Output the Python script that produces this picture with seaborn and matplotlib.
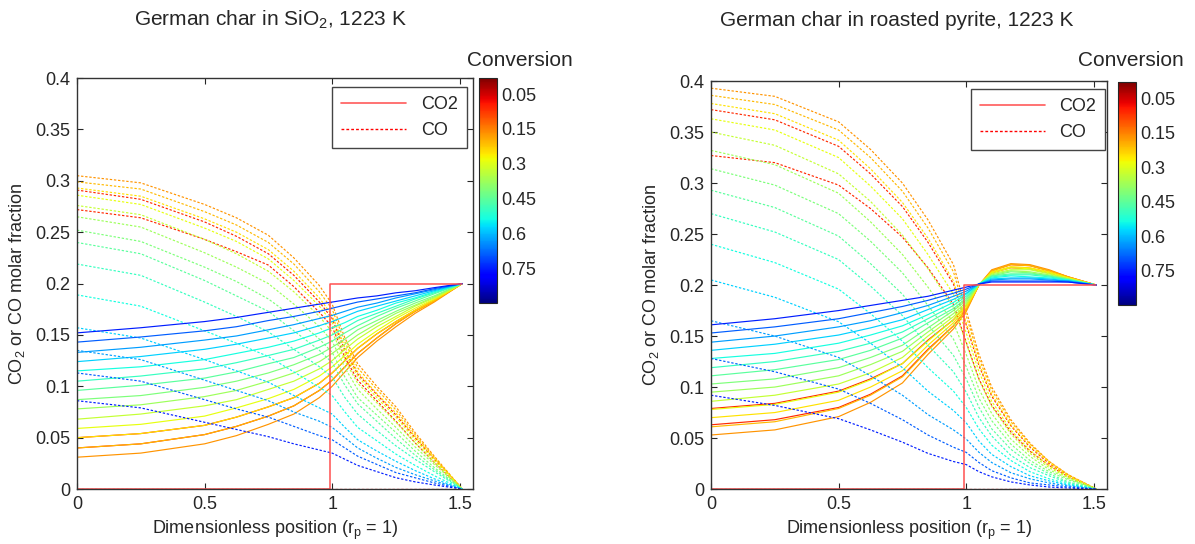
import numpy as np
import pandas as pd
import matplotlib
matplotlib.use("Agg")
import matplotlib.pyplot as plt
import seaborn as sns
from matplotlib.lines import Line2D
from matplotlib.ticker import FuncFormatter

# -------------------------------
# Data
# -------------------------------
# radial positions where every profile was read
X_PTS = [0, 0.25, 0.5, 0.625, 0.75, 0.85, 0.95, 1.0, 1.05, 1.1,
         1.175, 1.25, 1.325, 1.4, 1.51]

# conversion of each plotted profile (low -> high)
CONVERSION = [0.17, 0.21, 0.25, 0.29, 0.33, 0.375, 0.415, 0.455,
              0.495, 0.535, 0.58, 0.63, 0.69, 0.75]
RED_CONVERSION = 0.09

# colorbar labels (equally spaced on the bar)
CBAR_LABELS = [0.05, 0.15, 0.3, 0.45, 0.6, 0.75]

# --- German char in SiO2 ---
CO2_SIO2 = [
    [.031, .035, .044, .052, .063, .073, .089, .100, .114, .128, .144, .158, .171, .182, .2],
    [.040, .044, .053, .061, .071, .081, .096, .106, .119, .132, .147, .161, .173, .183, .2],
    [.050, .054, .062, .070, .080, .089, .103, .113, .125, .137, .151, .163, .174, .184, .2],
    [.059, .063, .071, .079, .088, .097, .110, .119, .130, .141, .154, .166, .176, .185, .2],
    [.068, .073, .081, .087, .097, .105, .117, .125, .136, .146, .158, .168, .178, .186, .2],
    [.078, .082, .090, .096, .105, .113, .124, .132, .141, .150, .161, .171, .179, .187, .2],
    [.087, .091, .099, .105, .113, .121, .131, .138, .146, .155, .164, .173, .181, .188, .2],
    [.096, .101, .108, .114, .122, .128, .138, .144, .152, .159, .168, .176, .183, .190, .2],
    [.105, .110, .117, .123, .130, .136, .145, .150, .157, .164, .171, .178, .185, .191, .2],
    [.115, .119, .126, .132, .138, .144, .152, .157, .162, .168, .174, .181, .186, .192, .2],
    [.124, .129, .136, .141, .147, .152, .159, .163, .168, .173, .178, .183, .188, .193, .2],
    [.133, .138, .145, .149, .155, .160, .166, .169, .173, .177, .181, .186, .190, .194, .2],
    [.143, .148, .154, .158, .164, .168, .173, .176, .179, .182, .185, .188, .191, .195, .2],
    [.152, .157, .163, .167, .172, .176, .180, .182, .184, .186, .188, .191, .193, .196, .2],
]
CO_SIO2 = [
    [.305, .298, .277, .264, .247, .225, .198, .180, .147, .122, .100, .080, .055, .032, 0],
    [.299, .292, .270, .257, .240, .219, .192, .175, .143, .118, .097, .077, .053, .031, 0],
    [.293, .285, .263, .250, .233, .212, .186, .169, .138, .114, .093, .074, .051, .030, 0],
    [.286, .277, .254, .241, .224, .203, .178, .162, .132, .110, .089, .070, .048, .028, 0],
    [.276, .267, .243, .229, .212, .192, .168, .153, .125, .103, .084, .065, .045, .026, 0],
    [.265, .255, .230, .216, .200, .180, .158, .144, .118, .097, .078, .060, .041, .024, 0],
    [.252, .241, .216, .202, .185, .167, .146, .133, .109, .089, .072, .055, .037, .021, 0],
    [.240, .229, .203, .188, .173, .154, .135, .123, .101, .083, .066, .049, .033, .019, 0],
    [.219, .208, .182, .168, .153, .136, .119, .109, .089, .073, .057, .042, .029, .017, 0],
    [.189, .178, .154, .142, .129, .114, .099, .091, .075, .060, .047, .034, .023, .013, 0],
    [.157, .147, .126, .115, .104, .091, .079, .073, .060, .048, .037, .027, .018, .010, 0],
    [.135, .126, .106, .096, .086, .075, .066, .060, .050, .040, .030, .021, .014, .008, 0],
    [.113, .105, .087, .078, .070, .061, .052, .048, .040, .032, .024, .016, .011, .006, 0],
    [.086, .079, .065, .058, .051, .044, .038, .035, .029, .023, .017, .011, .007, .004, 0],
]
CO2_SIO2_RED = [
    [.050, .054, .062, .070, .080, .089, .103, .113, .125, .137, .151, .163, .174, .184, .2],
    [.040, .044, .053, .061, .071, .081, .096, .106, .119, .132, .147, .161, .173, .183, .2],
]
CO_SIO2_RED = [
    [.291, .282, .260, .246, .229, .208, .182, .166, .135, .112, .092, .072, .050, .029, 0],
    [.272, .264, .243, .231, .218, .197, .172, .158, .128, .106, .086, .066, .045, .026, 0],
]

# --- German char in roasted pyrite ---
CO2_PYRITE = [
    [.053, .058, .071, .085, .104, .132, .157, .174, .200, .215, .221, .220, .215, .208, .2],
    [.061, .066, .079, .092, .110, .136, .160, .176, .200, .214, .220, .219, .214, .208, .2],
    [.070, .075, .087, .100, .116, .141, .163, .178, .200, .213, .218, .217, .213, .207, .2],
    [.078, .083, .095, .107, .123, .145, .166, .180, .200, .212, .217, .216, .212, .207, .2],
    [.086, .092, .103, .114, .129, .150, .169, .181, .201, .211, .215, .215, .211, .206, .2],
    [.095, .100, .111, .122, .135, .154, .172, .183, .201, .210, .214, .213, .210, .206, .2],
    [.103, .108, .119, .129, .141, .158, .175, .185, .201, .209, .213, .212, .209, .206, .2],
    [.111, .117, .127, .136, .148, .163, .177, .187, .201, .209, .211, .211, .209, .205, .2],
    [.119, .125, .135, .143, .154, .167, .180, .189, .201, .208, .210, .210, .208, .205, .2],
    [.128, .133, .143, .151, .160, .171, .183, .191, .201, .207, .209, .208, .207, .205, .2],
    [.136, .142, .151, .158, .166, .176, .186, .192, .201, .206, .207, .207, .206, .204, .2],
    [.144, .150, .159, .165, .173, .180, .189, .194, .201, .205, .206, .206, .205, .204, .2],
    [.153, .159, .167, .173, .179, .185, .192, .196, .201, .204, .204, .204, .204, .203, .2],
    [.161, .167, .175, .180, .185, .189, .195, .198, .201, .203, .203, .203, .203, .203, .2],
]
CO_PYRITE = [
    [.393, .385, .360, .333, .300, .264, .220, .175, .132, .100, .068, .045, .027, .014, 0],
    [.386, .377, .352, .325, .292, .256, .213, .170, .128, .097, .066, .044, .027, .014, 0],
    [.378, .368, .342, .314, .281, .246, .204, .163, .123, .093, .063, .042, .026, .013, 0],
    [.363, .352, .325, .297, .265, .230, .191, .153, .115, .086, .058, .038, .023, .012, 0],
    [.350, .337, .309, .282, .249, .216, .178, .143, .107, .081, .054, .035, .021, .011, 0],
    [.332, .318, .290, .262, .230, .198, .163, .132, .098, .074, .049, .032, .019, .010, 0],
    [.314, .298, .270, .243, .212, .180, .147, .120, .089, .067, .044, .028, .017, .009, 0],
    [.293, .276, .248, .221, .191, .161, .131, .108, .080, .059, .039, .025, .015, .007, 0],
    [.270, .252, .225, .199, .170, .141, .115, .095, .070, .052, .033, .021, .013, .006, 0],
    [.240, .222, .196, .172, .145, .119, .096, .080, .059, .043, .028, .017, .010, .005, 0],
    [.205, .188, .164, .143, .119, .096, .077, .065, .047, .034, .022, .013, .008, .004, 0],
    [.165, .150, .129, .111, .092, .073, .058, .049, .036, .026, .016, .010, .006, .003, 0],
    [.128, .115, .098, .084, .068, .053, .041, .036, .026, .018, .011, .006, .004, .002, 0],
    [.092, .082, .069, .058, .046, .035, .027, .024, .017, .012, .007, .004, .002, .001, 0],
]
CO2_PYRITE_RED = [
    [.079, .084, .096, .108, .123, .146, .166, .180, .200, .212, .217, .216, .212, .207, .2],
    [.063, .068, .080, .093, .111, .137, .160, .176, .200, .214, .220, .219, .214, .208, .2],
]
CO_PYRITE_RED = [
    [.372, .362, .336, .309, .277, .242, .201, .161, .121, .091, .062, .041, .025, .013, 0],
    [.327, .320, .298, .275, .247, .217, .181, .144, .108, .082, .056, .037, .023, .012, 0],
]

# initial profiles (conversion 0)
INIT_CO2_X = [0, 0.99, 0.99, 1.51]
INIT_CO2 = [0, 0, 0.2, 0.2]
INIT_CO_X = [0, 1.51]
INIT_CO = [0, 0]

TITLES = ["German char in SiO$_2$, 1223 K",
          "German char in roasted pyrite, 1223 K"]


def build_frame(panel, co2, co, co2_red, co_red):
    rows = []
    groups = [("CO2", co2, CONVERSION), ("CO", co, CONVERSION),
              ("CO2", co2_red, [RED_CONVERSION] * len(co2_red)),
              ("CO", co_red, [RED_CONVERSION] * len(co_red))]
    for g, (gas, table, convs) in enumerate(groups):
        for i, (c, ys) in enumerate(zip(convs, table)):
            for x, y in zip(X_PTS, ys):
                rows.append({"panel": panel, "gas": gas,
                             "curve": f"{gas}_{g}_{i}", "x": x, "y": y,
                             "conv": c})
    return pd.DataFrame(rows)


df = pd.concat([
    build_frame(0, CO2_SIO2, CO_SIO2, CO2_SIO2_RED, CO_SIO2_RED),
    build_frame(1, CO2_PYRITE, CO_PYRITE, CO2_PYRITE_RED, CO_PYRITE_RED),
], ignore_index=True)

# colorbar ticks are equally spaced -> map conversion to bar position
df["pos"] = np.interp(df["conv"], CBAR_LABELS, np.arange(len(CBAR_LABELS)))
CB_MIN, CB_MAX = -0.46, 6.0

# -------------------------------
# Figure
# -------------------------------
sns.set_style("ticks")
plt.rcParams["font.family"] = ["Liberation Sans", "DejaVu Sans"]
plt.rcParams["mathtext.fontset"] = "custom"
plt.rcParams["mathtext.rm"] = "Liberation Sans"
plt.rcParams["mathtext.it"] = "Liberation Sans:italic"

fig = plt.figure(figsize=(11.95, 5.44), dpi=100)
ax_boxes = [[0.0644, 0.101, 0.331, 0.7555], [0.595, 0.101, 0.331, 0.750]]
cax_boxes = [[0.4008, 0.443, 0.0151, 0.4136], [0.9356, 0.439, 0.0151, 0.410]]
title_x = [270 / 1195, 897 / 1195]
conv_x = [520 / 1195, 1131 / 1195]
legend_anchor = [(0.985, 0.978), (0.997, 0.98)]

sm = plt.cm.ScalarMappable(norm=plt.Normalize(CB_MIN, CB_MAX), cmap="jet_r")

for p in range(2):
    ax = fig.add_axes(ax_boxes[p])
    sub = df[df["panel"] == p]
    sns.lineplot(data=sub, x="x", y="y", hue="pos", palette="jet_r",
                 hue_norm=(CB_MIN, CB_MAX), style="gas",
                 dashes={"CO2": "", "CO": (2, 1.5)}, units="curve",
                 estimator=None, sort=False, lw=0.85, legend=False, ax=ax)
    ax.plot(INIT_CO_X, INIT_CO, color="red", ls=(0, (2, 1.5)), lw=0.9)
    ax.plot(INIT_CO2_X, INIT_CO2, color="#ff5050", lw=1.1)

    ax.set_xlim(0, 1.55)
    ax.set_ylim(0, 0.4)
    ax.set_xticks([0, 0.5, 1, 1.5])
    ax.set_yticks(np.arange(0, 0.401, 0.05))
    fmt = FuncFormatter(lambda v, _: f"{v:g}")
    ax.xaxis.set_major_formatter(fmt)
    ax.yaxis.set_major_formatter(fmt)
    ax.tick_params(direction="in", top=True, right=True, length=4,
                   labelsize=13, pad=5)
    for s in ax.spines.values():
        s.set_color("#333333")
        s.set_linewidth(1.0)
    ax.set_xlabel("Dimensionless position (r$_\\mathrm{p}$ = 1)", fontsize=13)
    ax.set_ylabel("CO$_2$ or CO molar fraction", fontsize=13, labelpad=6)

    handles = [Line2D([], [], color="#ff5a5a", lw=1.2),
               Line2D([], [], color="red", lw=1.0, ls=(0, (2, 1.5)))]
    leg = ax.legend(handles, ["CO2", "CO"], loc="upper right",
                    bbox_to_anchor=legend_anchor[p], borderaxespad=0,
                    fontsize=13, handlelength=3.6, fancybox=False,
                    framealpha=1, borderpad=0.5, labelspacing=0.5)
    leg.get_frame().set_edgecolor("#444444")
    leg.get_frame().set_linewidth(1.0)

    cax = fig.add_axes(cax_boxes[p])
    cb = fig.colorbar(sm, cax=cax)
    cax.invert_yaxis()
    cb.set_ticks(np.arange(len(CBAR_LABELS)))
    cb.set_ticklabels([f"{v:g}" for v in CBAR_LABELS])
    cax.tick_params(direction="in", left=True, right=True, length=3,
                    labelsize=13, pad=3)
    cb.outline.set_linewidth(0.8)

    fig.text(title_x[p], 1 - 20 / 544, TITLES[p], ha="center", va="center",
             fontsize=15)
    fig.text(conv_x[p], 1 - 60 / 544, "Conversion", ha="center",
             va="center", fontsize=15)

fig.savefig("out.png", dpi=100)
